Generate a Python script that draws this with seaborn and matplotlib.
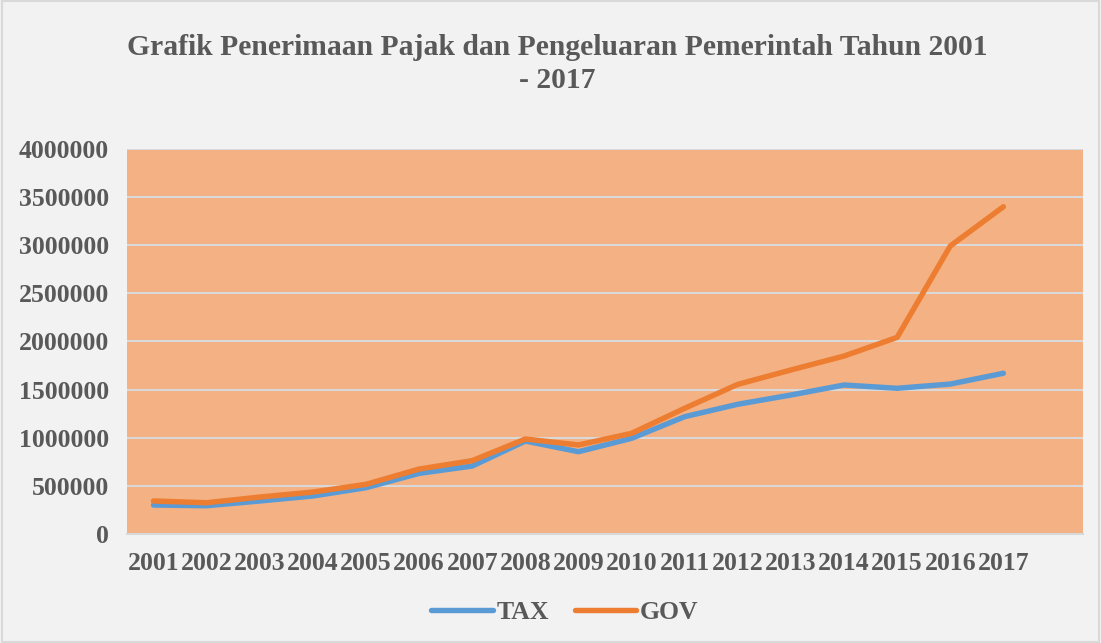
import matplotlib
matplotlib.use("Agg")
import matplotlib.pyplot as plt
import pandas as pd
import seaborn as sns

years = [str(y) for y in range(2001, 2018)]
tax = [301000, 294000, 343000, 395000, 481000, 630000, 706000, 966000, 855000,
       994000, 1219000, 1348000, 1444000, 1548000, 1514000, 1558000, 1670000]
gov = [343000, 325000, 384000, 436000, 516000, 675000, 762000, 987000, 925000,
       1046000, 1306000, 1555000, 1704000, 1849000, 2043000, 2992000, 3400000]

df = pd.DataFrame({"year": years * 2,
                   "value": tax + gov,
                   "series": ["TAX"] * len(years) + ["GOV"] * len(years)})

sns.set_style("white")
plt.rcParams['font.family'] = ['Liberation Serif', 'DejaVu Serif']
text_col = "#595959"

fig = plt.figure(figsize=(11.01, 6.43), dpi=100, facecolor="#F2F2F2")
ax = fig.add_axes([0.1153, 0.1695, 0.8684, 0.5988])
ax.set_facecolor("#F4B183")

# figure border
fig.patches.append(plt.Rectangle((0.002, 0.002), 0.996, 0.996, transform=fig.transFigure,
                                 fill=False, edgecolor="#D9D9D9", linewidth=1.5))

sns.lineplot(data=df, x="year", y="value", hue="series", sort=False,
             palette={"TAX": "#5B9BD5", "GOV": "#ED7D31"}, linewidth=3.9,
             solid_capstyle="round", ax=ax, legend=False)

ax.set_xlim(-0.5, 17.5)
ax.set_ylim(0, 4000000)
ax.set_yticks(range(0, 4000001, 500000))
ax.set_yticklabels([str(v) for v in range(0, 4000001, 500000)])
ax.grid(axis="y", color="#D9D9D9", linewidth=1.5)
ax.set_axisbelow(True)
for s in ["top", "right", "left"]:
    ax.spines[s].set_visible(False)
ax.spines["bottom"].set_color("#D9D9D9")
ax.spines["bottom"].set_linewidth(1.5)
ax.tick_params(axis="both", length=0, labelsize=18.5, colors=text_col)
ax.tick_params(axis="x", pad=13)
ax.tick_params(axis="y", pad=13)
for lab in ax.get_xticklabels() + ax.get_yticklabels():
    lab.set_fontweight("bold")
ax.set_xlabel("")
ax.set_ylabel("")

fig.text(0.506, 0.926, "Grafik Penerimaan Pajak dan Pengeluaran Pemerintah Tahun 2001",
         ha="center", va="center", fontsize=21.3, fontweight="bold", color=text_col)
fig.text(0.506, 0.875, "- 2017", ha="center", va="center", fontsize=21.3,
         fontweight="bold", color=text_col)

handles = [plt.Line2D([], [], color="#5B9BD5", linewidth=3.9, solid_capstyle="round"),
           plt.Line2D([], [], color="#ED7D31", linewidth=3.9, solid_capstyle="round")]
leg = fig.legend(handles, ["TAX", "GOV"], loc="center", bbox_to_anchor=(0.513, 0.048),
                 ncol=2, frameon=False, handlelength=2.4, handletextpad=0.15,
                 columnspacing=1.0, prop={"size": 18.5, "weight": "bold"})
for t in leg.get_texts():
    t.set_color(text_col)

fig.savefig("out.png", dpi=100, facecolor=fig.get_facecolor())
